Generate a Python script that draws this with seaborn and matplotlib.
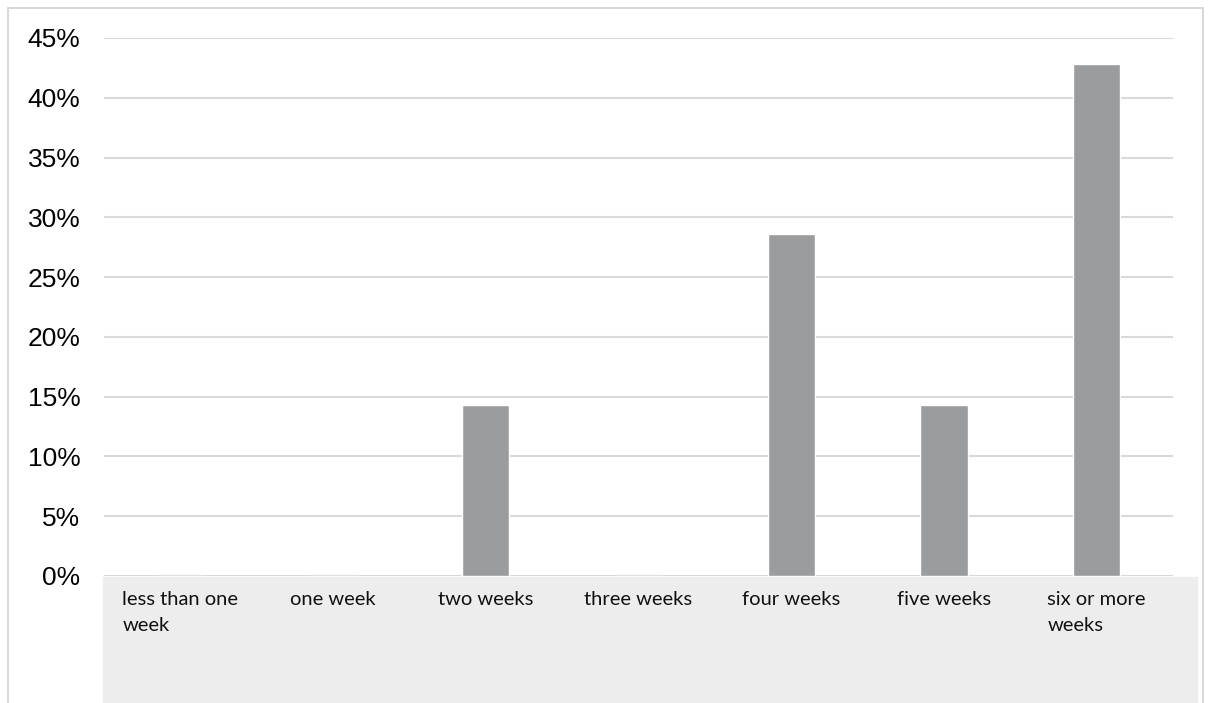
import matplotlib
matplotlib.use('Agg')
import matplotlib.pyplot as plt
import seaborn as sns
import pandas as pd
from matplotlib.ticker import PercentFormatter, MultipleLocator
from matplotlib.patches import Rectangle
from matplotlib.lines import Line2D

# data
categories = ['less than one\nweek', 'one week', 'two weeks', 'three weeks',
              'four weeks', 'five weeks', 'six or more\nweeks']
shares = [0.0, 0.0, 14.29, 0.0, 28.57, 14.29, 42.86]

df = pd.DataFrame({'duration': categories, 'share': shares})

sns.set_theme(style='white')
plt.rcParams['font.family'] = ['Liberation Sans', 'DejaVu Sans']

fig = plt.figure(figsize=(12.08, 7.03), dpi=100)
ax = fig.add_axes([0.0861, 0.1807, 0.885, 0.7653])

sns.barplot(data=df, x='duration', y='share', color='#9a9c9d', width=0.31,
            saturation=1, ax=ax, zorder=3)

ax.set_ylim(0, 45)
ax.set_xlim(-0.5, len(categories) - 0.5)
ax.yaxis.set_major_locator(MultipleLocator(5))
ax.yaxis.set_major_formatter(PercentFormatter(decimals=0))
ax.grid(axis='y', color='#d9d9d9', linewidth=1.5, zorder=0)
ax.set_axisbelow(True)
for s in ax.spines.values():
    s.set_visible(False)
ax.set_xlabel('')
ax.set_ylabel('')
ax.tick_params(axis='y', length=0, pad=17, labelsize=19, labelcolor='black')
ax.tick_params(axis='x', length=0, pad=11)
for lbl in ax.get_xticklabels():
    lbl.set_fontfamily(['Lato', 'DejaVu Sans'])
    lbl.set_fontsize(14.5)
    lbl.set_linespacing(1.65)
    lbl.set_multialignment('left')
    lbl.set_color('#111111')

# light grey band behind category labels, as in the reference screenshot
fig.patches.append(Rectangle((103 / 1208, 0), (1197 - 103) / 1208, 126 / 703,
                             transform=fig.transFigure, color='#ededed', zorder=-1))
# thin frame lines of the screenshot
frame = '#d9d9d9'
fig.lines.append(Line2D([8 / 1208, 8 / 1208], [0, 1 - 8 / 703], transform=fig.transFigure,
                        color=frame, linewidth=1.5))
fig.lines.append(Line2D([8 / 1208, 1203 / 1208], [1 - 8 / 703, 1 - 8 / 703],
                        transform=fig.transFigure, color=frame, linewidth=1.5))
fig.lines.append(Line2D([1203 / 1208, 1203 / 1208], [0, 1 - 8 / 703], transform=fig.transFigure,
                        color=frame, linewidth=1.5))

fig.savefig('out.png', dpi=100)
